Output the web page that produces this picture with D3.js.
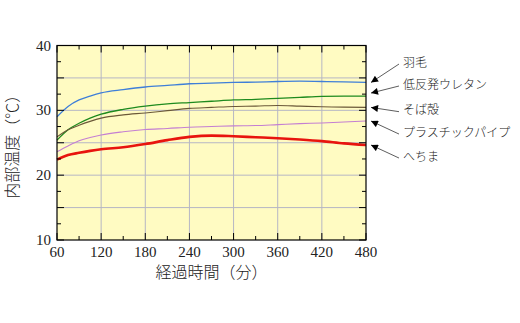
<!DOCTYPE html>
<html><head><meta charset="utf-8">
<script src="https://cdn.jsdelivr.net/npm/d3@7"></script>
<style>
html,body{margin:0;padding:0;background:#fff;}
svg{display:block;}
</style></head>
<body>
<svg id="c" width="520" height="323"></svg>
<script>
const times = [60,75,90,105,120,150,180,210,240,270,300,330,360,390,420,450,480];
const hane = [29.0,30.6,31.6,32.2,32.7,33.2,33.6,33.85,34.1,34.2,34.3,34.35,34.45,34.5,34.45,34.4,34.3];
const urethane = [25.4,27.0,28.0,28.8,29.4,30.15,30.65,31.0,31.2,31.4,31.6,31.7,31.85,32.0,32.15,32.2,32.2];
const sobagara = [25.9,27.0,27.7,28.3,28.8,29.3,29.6,29.95,30.3,30.45,30.6,30.65,30.75,30.65,30.55,30.5,30.45];
const pipe = [23.6,24.5,25.3,25.8,26.2,26.7,27.05,27.2,27.4,27.5,27.6,27.65,27.8,27.95,28.05,28.2,28.35];
const hechima = [22.4,23.1,23.45,23.75,24.0,24.3,24.8,25.4,25.9,26.1,26.0,25.85,25.7,25.5,25.25,24.9,24.65];
const seriesNames = ["羽毛","低反発ウレタン","そば殻","プラスチックパイプ","へちま"];
const seriesColors = ["#3f7fd8","#1e8a1e","#6b5838","#c47fd2","#e8140e"];
const seriesWidths = [1.3,1.3,1.1,1.1,2.6];
const labelValues = [37.45,34.06,30.1,26.65,22.95];
const xTicks = [60,120,180,240,300,360,420,480];
const yTicks = [10,20,30,40];

const seriesValues = [hane,urethane,sobagara,pipe,hechima];
const svg = d3.select("#c");
const L=57,R=366,T=45.5,B=240;
const x = d3.scaleLinear().domain([60,480]).range([L,R]);
const y = d3.scaleLinear().domain([10,40]).range([B,T]);

svg.append("rect").attr("x",L).attr("y",T).attr("width",R-L).attr("height",B-T).attr("fill","#fffbc2");

// gridlines
const g = svg.append("g");
g.selectAll(".vg").data(d3.range(120,480,60)).enter().append("line")
 .attr("x1",d=>x(d)).attr("x2",d=>x(d)).attr("y1",T).attr("y2",B)
 .attr("stroke","#b6b6c4").attr("stroke-width",1);
g.selectAll(".hg").data(d3.range(15,40,5)).enter().append("line")
 .attr("x1",L).attr("x2",R).attr("y1",d=>y(d)).attr("y2",d=>y(d))
 .attr("stroke","#b6b6c4").attr("stroke-width",1);

// lines
const line = d3.line().x(d=>x(d[0])).y(d=>y(d[1])).curve(d3.curveMonotoneX);
seriesValues.forEach((vals,i)=>{
  svg.append("path").datum(times.map((t,j)=>[t,vals[j]]))
   .attr("d",line).attr("fill","none").attr("stroke",seriesColors[i])
   .attr("stroke-width",seriesWidths[i]).attr("stroke-linejoin","round");
});

// axes (inside ticks)
const font = "'Liberation Serif','Times New Roman',serif";
function tickLen(major){return major?7:4;}
const yMinor = d3.range(10,40.01,2.5);
const xMinor = d3.range(60,480.01,30);
const ax = svg.append("g").attr("stroke","#000").attr("stroke-width",1);
yMinor.forEach(v=>{
  const maj = v%5===0;
  ax.append("line").attr("x1",L).attr("x2",L+tickLen(maj)).attr("y1",y(v)).attr("y2",y(v));
  ax.append("line").attr("x1",R).attr("x2",R-tickLen(maj)).attr("y1",y(v)).attr("y2",y(v));
});
xMinor.forEach(v=>{
  const maj = v%60===0;
  ax.append("line").attr("x1",x(v)).attr("x2",x(v)).attr("y1",B).attr("y2",B-tickLen(maj));
  ax.append("line").attr("x1",x(v)).attr("x2",x(v)).attr("y1",T).attr("y2",T+tickLen(maj));
});
svg.append("rect").attr("x",L).attr("y",T).attr("width",R-L).attr("height",B-T)
 .attr("fill","none").attr("stroke","#000").attr("stroke-width",1.2);

svg.selectAll(".yl").data(yTicks).enter().append("text")
 .attr("x",L-6).attr("y",d=>y(d)+5).attr("text-anchor","end")
 .attr("font-family",font).attr("font-size",15).attr("fill","#222").text(d=>d);
svg.selectAll(".xl").data(xTicks).enter().append("text")
 .attr("x",d=>x(d)).attr("y",B+17).attr("text-anchor","middle")
 .attr("font-family",font).attr("font-size",15).attr("fill","#222").text(d=>d);

const jp = "'Noto Sans CJK JP','Noto Sans',sans-serif";
svg.append("text").attr("x",(L+R)/2).attr("y",B+38).attr("text-anchor","middle")
 .attr("font-family",jp).attr("font-size",16).attr("font-weight",300).attr("fill","#222").text("経過時間（分）");
svg.append("text").attr("transform",`translate(18,${(T+B)/2}) rotate(-90)`).attr("text-anchor","middle")
 .attr("font-family",jp).attr("font-size",16).attr("font-weight",300).attr("fill","#222").text("内部温度（℃）");

// labels with arrows
svg.append("defs").append("marker").attr("id","ah").attr("viewBox","0 0 10 10")
 .attr("refX",10).attr("refY",5).attr("markerWidth",9).attr("markerHeight",7)
 .attr("markerUnits","userSpaceOnUse").attr("orient","auto")
 .append("path").attr("d","M0,0 L10,5 L0,10 Z").attr("fill","#000");
seriesNames.forEach((n,i)=>{
  const ly = y(labelValues[i]);
  const last = seriesValues[i][seriesValues[i].length-1];
  svg.append("line").attr("x1",399).attr("y1",ly+2).attr("x2",R+5).attr("y2",y(last)+ (i===1?-3:0))
   .attr("stroke","#333").attr("stroke-width",0.8).attr("marker-end","url(#ah)");
  svg.append("text").attr("x",403).attr("y",ly+4.5).attr("font-family",jp).attr("font-size",12)
   .attr("font-weight",300).attr("fill","#222").text(n);
});
</script>
</body></html>
